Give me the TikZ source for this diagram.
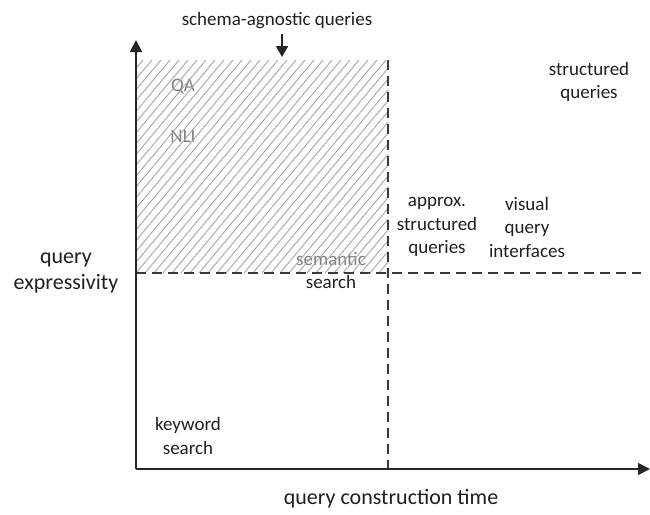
\documentclass[tikz,border=0pt]{standalone}
\usepackage{fontspec}
\setmainfont{Carlito}
\usetikzlibrary{arrows.meta}
\definecolor{axiscol}{HTML}{262626}
\definecolor{dashcol}{HTML}{3A3A3A}
\definecolor{hatchcol}{HTML}{A6A6A6}
\definecolor{labelcol}{HTML}{1F1F1F}
\definecolor{faintcol}{HTML}{7F7F7F}
\tikzset{
  axis/.style={line width=1.8pt, draw=axiscol, -{Triangle[length=12pt,width=12pt]}},
  divider/.style={line width=1.5pt, draw=dashcol, dash pattern=on 10pt off 6pt},
  label/.style={text=labelcol, align=center, inner sep=0pt, font=\fontsize{19}{23.5}\selectfont},
  biglabel/.style={text=labelcol, align=center, inner sep=0pt, font=\fontsize{22}{26}\selectfont},
  faint/.style={label, text=faintcol},
  hatch/.style={draw=hatchcol, line width=0.9pt},
}
\begin{document}
\begin{tikzpicture}[x=1pt, y=-1pt]
\useasboundingbox (0,0) rectangle (650,514);

% corner points of the plot
\coordinate (O) at (136,469);
\coordinate (ytip) at (136,40);
\coordinate (xtip) at (650,469);
\coordinate (hatchNW) at (136,60);
\coordinate (hatchSE) at (388,273);
\coordinate (vtop) at (388,60);
\coordinate (vbot) at (388,469);
\coordinate (hleft) at (136,273);
\coordinate (hright) at (641,273);

% labels inside the hatched area (drawn first so the hatching runs over them)
\node[faint] (qa) at (183,87) {QA};
\node[faint] (nli) at (183,136) {NLI};
\node[faint] (sem) at (331,259) {semantic};

% hatched region of schema-agnostic queries
\begin{scope}
  \clip (hatchNW) rectangle (hatchSE);
  \foreach \k in {-20,...,28} {
    \draw[hatch] (136+\k*9,273) -- ++(178,-213);
  }
\end{scope}

% dashed quadrant dividers
\draw[divider] (vtop) -- (vbot);
\draw[divider] (hleft) -- (hright);

% axes
\draw[axis] (O) -- (ytip);
\draw[axis] (O) -- (xtip);

% pointer to the hatched region
\node[label] (sa) at (277,21) {schema-agnostic queries};
\coordinate (satail) at (282,34);
\coordinate (sahead) at (282,57);
\draw[line width=1.8pt, draw=axiscol, -{Triangle[length=11pt,width=12pt]}] (satail) -- (sahead);

% remaining labels
\node[label] (search) at (331,282) {search};
\node[label] (kw) at (188,436) {keyword\\search};
\node[biglabel] (qe) at (66,273) {query\\expressivity};
\node[label] (asq) at (437,227) {approx.\\structured\\queries};
\node[label] (vqi) at (527,227) {visual\\query\\interfaces};
\node[label] (sq) at (589,82) {structured\\queries};
\node[biglabel] (qct) at (391,499) {query construction time};
\end{tikzpicture}
\end{document}
